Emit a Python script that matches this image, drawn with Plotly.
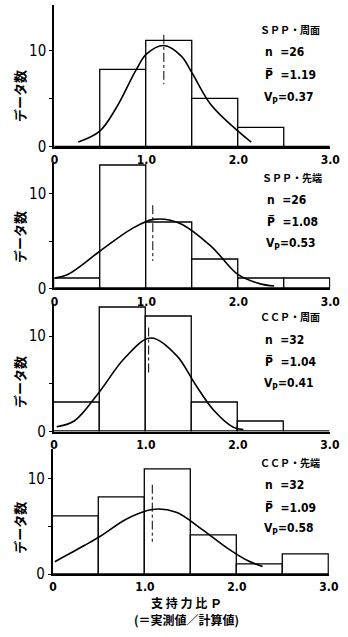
import plotly.graph_objects as go

W, H = 348, 637

# ---- data ----
bin_centers = [0.25, 0.75, 1.25, 1.75, 2.25, 2.75]
counts_spp_side = [0, 8, 11, 5, 2, 0]
counts_spp_tip = [1, 13, 7, 3, 1, 1]
counts_ccp_side = [3, 13, 12, 3, 1, 0]
counts_ccp_tip = [6, 8, 11, 4, 1, 2]

curve_spp_side_x = [0.26, 0.49, 0.67, 0.89, 1.0, 1.19, 1.38, 1.5, 1.7, 2.0, 2.14]
curve_spp_side_y = [0.5, 1.6, 4.0, 8.0, 9.6, 10.5, 9.4, 7.6, 4.4, 1.6, 0.5]
curve_spp_tip_x = [0.0, 0.15, 0.49, 0.84, 1.08, 1.36, 1.71, 1.99, 2.23, 2.39]
curve_spp_tip_y = [1.1, 1.5, 3.9, 6.3, 7.3, 6.9, 4.4, 1.5, 0.5, 0.25]
curve_ccp_side_x = [0.03, 0.22, 0.49, 0.77, 1.05, 1.33, 1.54, 1.74, 1.95, 2.06]
curve_ccp_side_y = [0.5, 1.1, 4.1, 7.7, 9.8, 8.0, 4.9, 2.2, 0.45, 0.2]
curve_ccp_tip_x = [0.02, 0.34, 0.52, 0.80, 1.08, 1.34, 1.62, 1.90, 2.11, 2.28]
curve_ccp_tip_y = [1.3, 3.0, 4.0, 5.8, 6.8, 6.5, 4.7, 2.7, 1.45, 0.8]

mean_p = [1.19, 1.07, 1.03, 1.08]
mean_line_y = [[11.6, 6.5], [8.8, 2.9], [10.9, 6.1], [9.4, 3.4]]

titles = ["ＳＰＰ・周面", "ＳＰＰ・先端", "ＣＣＰ・周面", "ＣＣＰ・先端"]
n_labels = ["26", "26", "32", "32"]
p_labels = ["1.19", "1.08", "1.04", "1.09"]
v_labels = ["0.37", "0.53", "0.41", "0.58"]

x_tickvals = [0, 1, 2, 3]
x_ticktext = ["0", "1.0", "2.0", "3.0"]
y_tickvals = [0, 10]
y_ticktext = ["0", "10"]
y_minor_tickvals = [5]

# ---- layout geometry (pixels) ----
panels = [
    dict(counts=counts_spp_side, cx=curve_spp_side_x, cy=curve_spp_side_y,
         base=149, top=5, ymax=14.7, x0=52.5, x3=340, ylab=97,
         ty=[30, 53, 76, 99], tx=265),
    dict(counts=counts_spp_tip, cx=curve_spp_tip_x, cy=curve_spp_tip_y,
         base=292.5, top=165, ymax=13.3, x0=52.5, x3=340, ylab=240,
         ty=[180, 203, 225, 248], tx=267),
    dict(counts=counts_ccp_side, cx=curve_ccp_side_x, cy=curve_ccp_side_y,
         base=437.7, top=308, ymax=13.4, x0=52, x3=339.5, ylab=387,
         ty=[321, 345, 367, 390], tx=265),
    dict(counts=counts_ccp_tip, cx=curve_ccp_tip_x, cy=curve_ccp_tip_y,
         base=582.3, top=455, ymax=13.2, x0=51, x3=338.5, ylab=535,
         ty=[469, 492, 515, 537], tx=265),
]

JP = "Noto Sans CJK JP"
NUM = "Liberation Sans Narrow, DejaVu Sans Condensed, Arial Narrow, sans-serif"

fig = go.Figure()
annotations = []
layout_axes = {}

def fy(py):
    return 1 - py / H

for i, p in enumerate(panels):
    k = "" if i == 0 else str(i + 1)
    xa, ya = "x" + k, "y" + k
    fig.add_trace(go.Bar(
        x=bin_centers, y=p["counts"], width=0.5, xaxis=xa, yaxis=ya,
        marker=dict(color="white", line=dict(color="black", width=1.3)),
        showlegend=False, hoverinfo="skip"))
    fig.add_trace(go.Scatter(
        x=p["cx"], y=p["cy"], mode="lines", xaxis=xa, yaxis=ya,
        line=dict(color="black", width=1.6, shape="spline", smoothing=1.0),
        showlegend=False, hoverinfo="skip"))
    fig.add_trace(go.Scatter(
        x=[mean_p[i], mean_p[i]], y=mean_line_y[i], mode="lines",
        xaxis=xa, yaxis=ya,
        line=dict(color="black", width=1, dash="dashdot"),
        showlegend=False, hoverinfo="skip"))

    layout_axes["xaxis" + k] = dict(
        domain=[p["x0"] / W, p["x3"] / W], range=[0, 3], anchor=ya,
        showline=True, linecolor="black", linewidth=1.6, showgrid=False,
        zeroline=False, tickvals=x_tickvals, ticktext=x_ticktext,
        ticks="", tickfont=dict(family=NUM, size=12, color="black",
                                weight="bold"),
        ticklabelstandoff=1, ticklabeloverflow="allow")
    layout_axes["yaxis" + k] = dict(
        domain=[fy(p["base"]), fy(p["top"])], range=[0, p["ymax"]],
        anchor=xa, showline=True, linecolor="black", linewidth=2.2,
        showgrid=False, zeroline=False, tickvals=y_tickvals,
        ticktext=y_ticktext, ticks="outside", ticklen=3, tickwidth=1,
        tickcolor="black", ticklabeloverflow="allow",
        minor=dict(tickmode="array", tickvals=y_minor_tickvals,
                   ticks="outside", ticklen=3, tickwidth=1,
                   tickcolor="black", showgrid=False),
        tickfont=dict(family=NUM, size=15, color="black"))

    annotations.append(dict(
        text="<b>データ数</b>", x=16 / W, y=fy(p["ylab"]), xref="paper",
        yref="paper", textangle=-90, showarrow=False,
        font=dict(family=JP, size=13, color="black"),
        xanchor="center", yanchor="middle"))
    lines = [
        (titles[i], JP, 10, p["tx"]),
        ("n  =" + n_labels[i], NUM, 12, p["tx"] + 5),
        ("P\u0305  =" + p_labels[i], NUM, 12, p["tx"] + 5),
        ("V<sub>P</sub>=" + v_labels[i], NUM, 12, p["tx"] + 4),
    ]
    for (txt, fam, sz, tx), ty in zip(lines, p["ty"]):
        annotations.append(dict(
            text="<b>" + txt + "</b>", x=tx / W, y=fy(ty), xref="paper",
            yref="paper", showarrow=False, xanchor="left", yanchor="middle",
            font=dict(family=fam, size=sz, color="black")))

annotations.append(dict(
    text="<b>支 持 力 比 Ｐ</b>", x=190 / W, y=fy(611), xref="paper",
    yref="paper", showarrow=False, xanchor="center", yanchor="middle",
    font=dict(family=JP, size=12, color="black")))
annotations.append(dict(
    text="<b>(＝実測値／計算値)</b>", x=190 / W, y=fy(628), xref="paper",
    yref="paper", showarrow=False, xanchor="center", yanchor="middle",
    font=dict(family=JP, size=12, color="black")))

fig.update_layout(
    width=W, height=H, margin=dict(l=0, r=0, t=0, b=0),
    paper_bgcolor="white", plot_bgcolor="white",
    bargap=0, annotations=annotations, **layout_axes)

fig.write_html("out.html")
